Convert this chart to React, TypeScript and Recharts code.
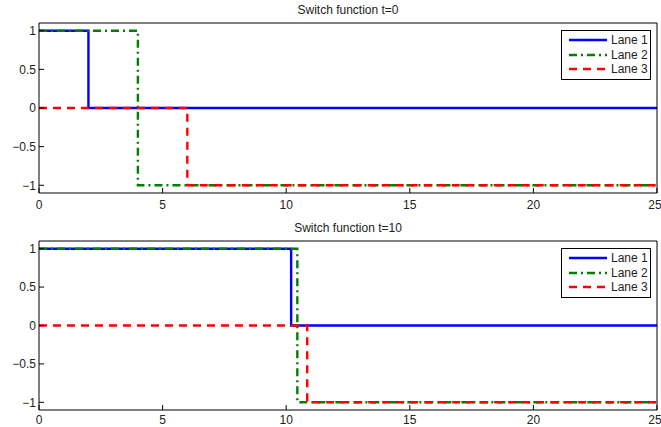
import React from 'react';
import { LineChart, Line, XAxis, YAxis, Legend } from 'recharts';

// x ticks / y ticks shared by both panels
const xTicks = [0, 5, 10, 15, 20, 25];
const yTicks = [-1, -0.5, 0, 0.5, 1];

const laneNames = ['Lane 1', 'Lane 2', 'Lane 3'];
const laneColors = ['#0000ff', '#008000', '#ff0000'];
const laneDashes = ['', '8 4 2 4', '8 6'];

// switch function at t=0
const t0Lane1 = [{ t: 0, v: 1 }, { t: 2, v: 0 }, { t: 25, v: 0 }];
const t0Lane2 = [{ t: 0, v: 1 }, { t: 4, v: -1 }, { t: 25, v: -1 }];
const t0Lane3 = [{ t: 0, v: 0 }, { t: 6, v: -1 }, { t: 25, v: -1 }];

// switch function at t=10
const t10Lane1 = [{ t: 0, v: 1 }, { t: 10.2, v: 0 }, { t: 25, v: 0 }];
const t10Lane2 = [{ t: 0, v: 1 }, { t: 10.45, v: -1 }, { t: 25, v: -1 }];
const t10Lane3 = [{ t: 0, v: 0 }, { t: 10.85, v: -1 }, { t: 25, v: -1 }];

const FONT = '"Liberation Sans", Arial, Helvetica, sans-serif';
const fmt = (v: number) => String(v).replace('-', '\u2212');
const tickStyle = { fontSize: 12, fill: '#222', fontFamily: FONT };

const LaneLegend = () => (
  <div
    style={{
      border: '1px solid #000',
      background: '#fff',
      width: 88,
      padding: '2px 0 2px 0',
      fontFamily: FONT,
      fontSize: 12,
      color: '#222',
    }}
  >
    {laneNames.map((name, i) => (
      <div key={name} style={{ display: 'flex', alignItems: 'center', height: 14.5 }}>
        <svg width={38} height={8} style={{ marginLeft: 7, marginRight: 4 }}>
          <line
            x1={0}
            y1={4}
            x2={38}
            y2={4}
            stroke={laneColors[i]}
            strokeWidth={2.4}
            strokeDasharray={laneDashes[i] || undefined}
          />
        </svg>
        <span>{name}</span>
      </div>
    ))}
  </div>
);

interface PanelProps {
  title: string;
  lanes: Array<Array<{ t: number; v: number }>>;
  top: number;
  height: number;
  marginTop: number;
  axisHeight: number;
  labelGap: number;
}

const Panel = ({ title, lanes, top, height, marginTop, axisHeight, labelGap }: PanelProps) => {
  const plotTop = marginTop + 1;
  return (
    <div style={{ position: 'absolute', left: 0, top, width: 661, height }}>
      <div
        style={{
          position: 'absolute',
          left: 39,
          width: 618,
          top: plotTop - 20,
          textAlign: 'center',
          fontFamily: FONT,
          fontSize: 12,
          color: '#222',
        }}
      >
        {title}
      </div>
      <LineChart width={661} height={height} margin={{ top: marginTop, right: 3, left: 0, bottom: 0 }}>
        <XAxis
          dataKey="t"
          type="number"
          domain={[0, 25]}
          ticks={xTicks}
          height={axisHeight}
          stroke="#000"
          tickSize={-5}
          tickMargin={labelGap}
          tick={tickStyle}
        />
        <XAxis
          xAxisId="top"
          orientation="top"
          type="number"
          domain={[0, 25]}
          ticks={xTicks}
          height={1}
          stroke="#000"
          tickSize={-5}
          tick={false}
        />
        <YAxis
          type="number"
          domain={[-1.1, 1.1]}
          ticks={yTicks}
          width={39}
          stroke="#000"
          tickSize={-5}
          tickMargin={8}
          tick={tickStyle}
          tickFormatter={fmt}
        />
        <YAxis
          yAxisId="right"
          orientation="right"
          type="number"
          domain={[-1.1, 1.1]}
          ticks={yTicks}
          width={1}
          stroke="#000"
          tickSize={-5}
          tick={false}
        />
        <Legend
          layout="vertical"
          align="center"
          verticalAlign="middle"
          content={() => <LaneLegend />}
          wrapperStyle={{ top: plotTop + 7, left: 561, width: 90 }}
        />
        {lanes.map((d, i) => (
          <Line
            key={laneNames[i]}
            data={d}
            dataKey="v"
            name={laneNames[i]}
            type="stepAfter"
            stroke={laneColors[i]}
            strokeWidth={2.4}
            strokeDasharray={laneDashes[i] || undefined}
            dot={false}
            activeDot={false}
            isAnimationActive={false}
          />
        ))}
      </LineChart>
    </div>
  );
};

export default function App() {
  return (
    <div
      style={{
        position: 'absolute',
        left: 0,
        top: 0,
        width: 661,
        height: 427,
        overflow: 'hidden',
        background: '#fff',
      }}
    >
      <Panel
        title="Switch function t=0"
        lanes={[t0Lane1, t0Lane2, t0Lane3]}
        top={0}
        height={214}
        marginTop={22}
        axisHeight={21}
        labelGap={12}
      />
      <Panel
        title="Switch function t=10"
        lanes={[t10Lane1, t10Lane2, t10Lane3]}
        top={214}
        height={213}
        marginTop={26}
        axisHeight={17}
        labelGap={10}
      />
    </div>
  );
}
